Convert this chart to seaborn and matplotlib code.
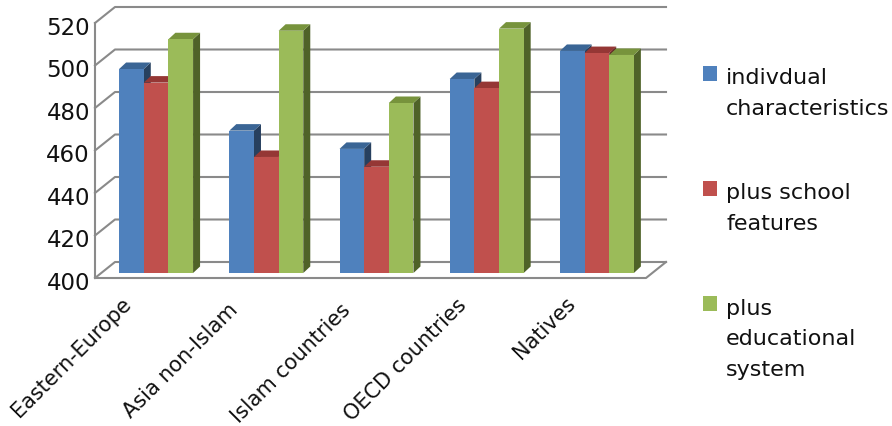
import matplotlib
matplotlib.use("Agg")
import matplotlib.pyplot as plt
from matplotlib.legend_handler import HandlerPatch
from matplotlib.patches import Patch, Polygon, Rectangle
from matplotlib.transforms import ScaledTranslation
import pandas as pd
import seaborn as sns

regions = ["Eastern-Europe", "Asia non-Islam", "Islam countries", "OECD countries", "Natives"]
individual = [496, 467, 458.4, 491.3, 504.5]
school = [489.6, 454.6, 450, 487, 503.5]
system = [510, 514, 480, 515, 502.6]
series_names = ["indivdual\ncharacteristics", "plus school\nfeatures", "plus\neducational\nsystem"]
y_ticks = [400, 420, 440, 460, 480, 500, 520]

fronts = ["#4F81BD", "#C0504D", "#9BBB59"]
tops = ["#3A6595", "#953735", "#77933C"]
sides = ["#27405F", "#632523", "#4F6228"]
WALL = "#8A8A8A"

W, H = 892, 427
fig = plt.figure(figsize=(W / 100, H / 100), dpi=100)
sns.set_theme(style="white")
plt.rcParams["font.family"] = ["DejaVu Sans"]

left, right, bottom, top = 101, 652, 274, 19
ax = fig.add_axes([left / W, 1 - bottom / H, (right - left) / W, (bottom - top) / H])

table = pd.DataFrame({
    "region": regions * 3,
    "score": individual + school + system,
    "series": [n for n in series_names for _ in regions],
})
sns.barplot(data=table, x="region", y="score", hue="series", palette=fronts, saturation=1,
            width=0.671, gap=0, legend=False, ax=ax)
ax.set_xlim(-0.5, 4.5)
ax.set_ylim(400, 520)
ax.set_xlabel("")
ax.set_ylabel("")
sns.despine(ax=ax, left=True, bottom=True, top=True, right=True)

# Pixel-sized offsets expressed in data units for the oblique projection.
px_x = 5 / (right - left)
px_y = 120 / (bottom - top)


def shift(x, y, dx_px, dy_px):
    return x + dx_px * px_x, y + dy_px * px_y


# Extruded top and side faces, painted series by series so nearer bars overlap.
DEPTH_X, DEPTH_Y = 7, 6.5
for i, bars in enumerate(ax.containers):
    for bar in bars:
        bar.set_zorder(4 + i + 0.5)
        bar.set_linewidth(0)
        x0, x1, v = bar.get_x(), bar.get_x() + bar.get_width(), bar.get_height()
        side = [(x1, 400), shift(x1, 400, DEPTH_X, DEPTH_Y), shift(x1, v, DEPTH_X, DEPTH_Y), (x1, v)]
        cap = [(x0, v), shift(x0, v, DEPTH_X, DEPTH_Y), shift(x1, v, DEPTH_X, DEPTH_Y), (x1, v)]
        ax.add_patch(Polygon(side, closed=True, fc=sides[i], ec="none", zorder=4 + i, clip_on=False))
        ax.add_patch(Polygon(cap, closed=True, fc=tops[i], ec="none", zorder=4 + i, clip_on=False))

# Back wall, side wall and floor of the box.
FRONT = (-6, -5)
BACK = (14, 11)
x_lo, x_hi = ax.get_xlim()
line_style = dict(color=WALL, lw=1.5, clip_on=False, zorder=1, solid_capstyle="projecting")
for t in y_ticks:
    a = shift(x_lo, t, *FRONT)
    b = shift(x_lo, t, *BACK)
    c = shift(x_hi, t, *BACK)
    ax.plot([a[0], b[0], c[0]], [a[1], b[1], c[1]], **line_style)
a = shift(x_lo, 400, *FRONT)
b = shift(x_lo, 520, *FRONT)
c = shift(x_hi, 400, *FRONT)
d = shift(x_hi, 400, *BACK)
ax.plot([b[0], a[0], c[0], d[0]], [b[1], a[1], c[1], d[1]], **line_style)

# Tick labels sit on the front edge of the box.
ax.set_yticks(y_ticks)
ax.tick_params(axis="y", length=0, pad=8, labelsize=16.5, labelcolor="#111111")
ax.tick_params(axis="x", length=0, pad=14, labelsize=15, labelcolor="#111111")
down = ScaledTranslation(0, -5 / 72, fig.dpi_scale_trans)
for label in ax.get_yticklabels():
    label.set_transform(label.get_transform() + down)

# Rotated category labels, each nudged by a few pixels along the floor edge.
label_nudges = [(-34.7, 0), (-39, -6), (-36, -7), (-30.5, -2), (-31.5, 0)]
for label, (nx, ny) in zip(ax.get_xticklabels(), label_nudges):
    label.set(rotation=45, ha="right", va="top", rotation_mode="anchor")
    label.set_transform(label.get_transform() + ScaledTranslation(nx / 100, ny / 100, fig.dpi_scale_trans))

LINE_PT = 22.5


class FirstLineHandler(HandlerPatch):
    """Square swatch level with the first line of a multi-line label."""

    def create_artists(self, legend, orig_handle, xdescent, ydescent, width, height, fontsize, trans):
        extra_lines = orig_handle.get_label().count("\n")
        raised = extra_lines * LINE_PT / 2 + 2.9
        box = Rectangle((0, raised), width, height, fc=orig_handle.get_facecolor(), ec="none", transform=trans)
        return [box]


handles = [Patch(facecolor=c, label=n) for c, n in zip(fronts, series_names)]
legend = fig.legend(handles=handles, loc="upper left", bbox_to_anchor=(694 / W, 1 - 59 / H),
                    bbox_transform=fig.transFigure, frameon=False, fontsize=16,
                    handlelength=0.65, handleheight=0.65, handletextpad=0.4, labelspacing=2.9,
                    borderaxespad=0, handler_map={Patch: FirstLineHandler()})
for text in legend.get_texts():
    text.set_linespacing(1.68)
    text.set_color("#111111")

fig.savefig("out.png", dpi=100)
